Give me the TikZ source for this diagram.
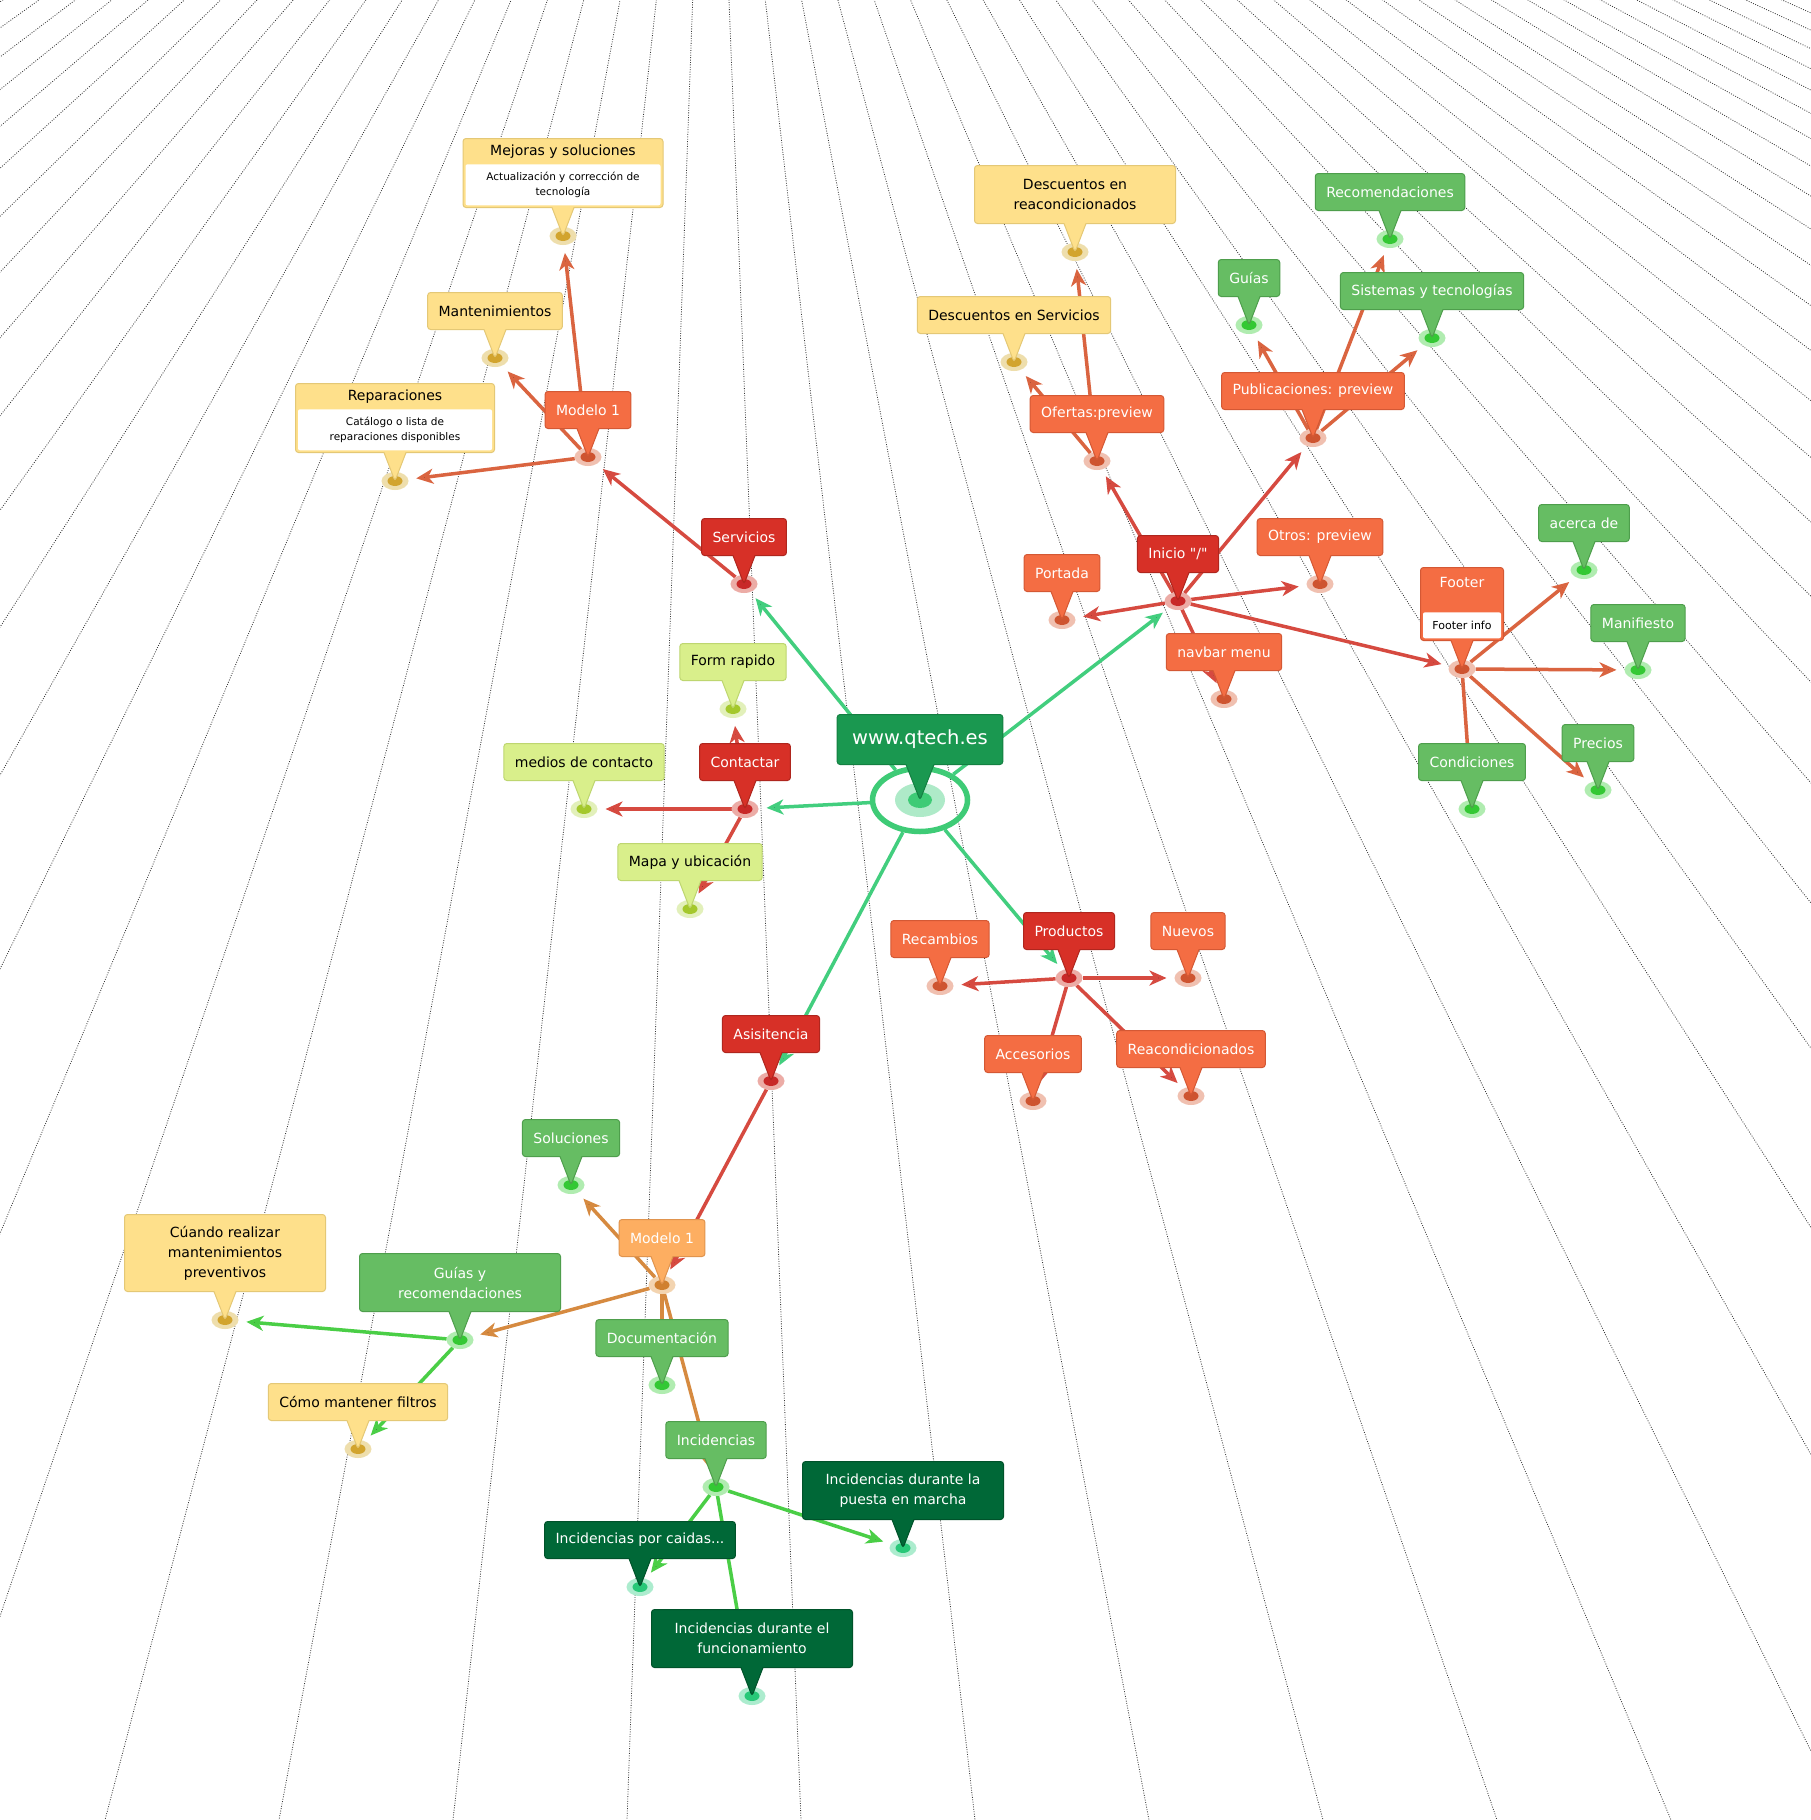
\documentclass[tikz,border=0pt]{standalone}
\usepackage{fontspec}
\setmainfont{DejaVu Sans}[Ligatures=TeXOff]
\usetikzlibrary{positioning,shapes.geometric,shapes.callouts,arrows.meta,backgrounds}

\definecolor{rdfill}{RGB}{215,48,39}
\definecolor{rddraw}{RGB}{175,38,30}
\definecolor{rdspot}{RGB}{200,40,40}
\definecolor{rdhalo}{RGB}{236,172,166}
\definecolor{orfill}{RGB}{244,109,67}
\definecolor{ordraw}{RGB}{212,88,52}
\definecolor{orspot}{RGB}{206,84,48}
\definecolor{orhalo}{RGB}{240,192,176}
\definecolor{amfill}{RGB}{253,174,97}
\definecolor{amdraw}{RGB}{224,148,78}
\definecolor{amspot}{RGB}{208,128,46}
\definecolor{amhalo}{RGB}{243,212,176}
\definecolor{yefill}{RGB}{254,224,139}
\definecolor{yedraw}{RGB}{228,200,118}
\definecolor{yespot}{RGB}{210,164,46}
\definecolor{yehalo}{RGB}{238,222,172}
\definecolor{lifill}{RGB}{217,239,139}
\definecolor{lidraw}{RGB}{190,214,112}
\definecolor{lispot}{RGB}{164,200,44}
\definecolor{lihalo}{RGB}{226,240,186}
\definecolor{grfill}{RGB}{102,189,99}
\definecolor{grdraw}{RGB}{78,158,76}
\definecolor{grspot}{RGB}{52,200,52}
\definecolor{grhalo}{RGB}{176,236,176}
\definecolor{dkfill}{RGB}{0,104,55}
\definecolor{dkdraw}{RGB}{0,82,42}
\definecolor{dkspot}{RGB}{40,200,120}
\definecolor{dkhalo}{RGB}{172,236,206}
\definecolor{wbfill}{RGB}{26,152,80}
\definecolor{wbdraw}{RGB}{20,128,66}
\definecolor{wbring}{RGB}{62,203,118}
\definecolor{wbhalo}{RGB}{174,234,200}
\definecolor{wbline}{RGB}{66,206,126}
\definecolor{rdline}{RGB}{214,74,64}
\definecolor{orline}{RGB}{218,100,64}
\definecolor{amline}{RGB}{214,138,64}
\definecolor{grline}{RGB}{74,206,70}
\definecolor{rayline}{RGB}{55,55,55}

\begin{document}
\begin{tikzpicture}[x=1pt,y=-1pt,>={Stealth[length=17pt,width=15pt,inset=5pt]},shorten >=8pt,
      pinbox/.style={rectangle callout,rounded corners=3pt,line width=1pt,inner xsep=11pt,inner ysep=2pt,
        minimum height=37pt,callout pointer width=22pt,align=center,font=\fontsize{14}{20}\selectfont},
      red pinbox/.style={pinbox,fill=rdfill,draw=rddraw,text=white},
      orange pinbox/.style={pinbox,fill=orfill,draw=ordraw,text=white},
      amber pinbox/.style={pinbox,fill=amfill,draw=amdraw,text=white},
      yellow pinbox/.style={pinbox,fill=yefill,draw=yedraw,text=black},
      lime pinbox/.style={pinbox,fill=lifill,draw=lidraw,text=black},
      green pinbox/.style={pinbox,fill=grfill,draw=grdraw,text=white},
      dark pinbox/.style={pinbox,fill=dkfill,draw=dkdraw,text=white},
      web pinbox/.style={pinbox,fill=wbfill,draw=wbdraw,text=white,inner xsep=15pt,minimum height=50pt,
        callout pointer width=28pt,font=\fontsize{19.5}{24}\selectfont},
      spot/.style={ellipse,inner sep=0pt,outer sep=0pt,minimum width=27pt,minimum height=18pt},
      red spot/.style={spot,fill=rdhalo,path picture={\fill[rdspot] (path picture bounding box.center) ellipse (7.5pt and 5pt);}},
      orange spot/.style={spot,fill=orhalo,path picture={\fill[orspot] (path picture bounding box.center) ellipse (7.5pt and 5pt);}},
      amber spot/.style={spot,fill=amhalo,path picture={\fill[amspot] (path picture bounding box.center) ellipse (7.5pt and 5pt);}},
      yellow spot/.style={spot,fill=yehalo,path picture={\fill[yespot] (path picture bounding box.center) ellipse (7.5pt and 5pt);}},
      lime spot/.style={spot,fill=lihalo,path picture={\fill[lispot] (path picture bounding box.center) ellipse (7.5pt and 5pt);}},
      green spot/.style={spot,fill=grhalo,path picture={\fill[grspot] (path picture bounding box.center) ellipse (7.5pt and 5pt);}},
      dark spot/.style={spot,fill=dkhalo,path picture={\fill[dkspot] (path picture bounding box.center) ellipse (7.5pt and 5pt);}},
      web spot/.style={ellipse,inner sep=0pt,outer sep=0pt,minimum width=50pt,minimum height=34pt,fill=wbhalo,
        path picture={\fill[wbring] (path picture bounding box.center) ellipse (12pt and 8pt);}},
      web ring/.style={ellipse,draw=wbring,line width=5.5pt,minimum width=95pt,minimum height=63pt,inner sep=0pt},
      pin head/.style={inner sep=0pt,minimum height=26pt,anchor=north,font=\fontsize{14}{20}\selectfont},
      pin body/.style={fill=white,rounded corners=2pt,inner sep=0pt,anchor=south,align=center,
        font=\fontsize{10.5}{15}\selectfont},
      web line/.style={draw=wbline,line width=3.5pt},
      red line/.style={draw=rdline,line width=3.5pt},
      orange line/.style={draw=orline,line width=3.5pt},
      amber line/.style={draw=amline,line width=3.5pt},
      green line/.style={draw=grline,line width=3.5pt},
      ray/.style={draw=rayline,line width=0.8pt,dash pattern=on 0.9pt off 1.5pt,shorten >=0pt}]
      \useasboundingbox (0,0) rectangle (1811,1820);
      \begin{scope}[on background layer]
        \fill[white] (0,0) rectangle (1811,1820);
        \clip (0,0) rectangle (1811,1820);
        \foreach \k in {-16,...,34}
          \draw[ray] (710,-480) -- ({105+174*\k},1820);
      \end{scope}

      \node[web ring] (web) at (920,800) {};
      \node[web spot] (webdot) at (920,800) {};
      \node[web pinbox,above=18pt of webdot,callout absolute pointer=(webdot.center)] (webbox) {www.qtech.es};

      \node[red spot] (serv) at (744,584) {};
      \node[red pinbox,above=19pt of serv,callout absolute pointer=(serv.center)] (servbox) {Servicios};
      \node[orange spot] (mod) at (588,457) {};
      \node[orange pinbox,above=19pt of mod,callout absolute pointer=(mod.center)] (modbox) {Modelo 1};
      \node[yellow spot] (mej) at (563,236) {};
      \node[yellow pinbox,minimum width=200pt,minimum height=69pt,above=19pt of mej,callout absolute pointer=(mej.center)] (mejbox) {};
      \node[pin head] (mejhead) at (mejbox.north) {Mejoras y soluciones};
      \node[pin body,minimum width=195pt,minimum height=41pt] (mejbody) at ([yshift=2.5pt]mejbox.south) {Actualización y corrección de\\tecnología};
      \node[yellow spot] (mant) at (495,358) {};
      \node[yellow pinbox,above=19pt of mant,callout absolute pointer=(mant.center)] (mantbox) {Mantenimientos};
      \node[yellow spot] (rep) at (395,481) {};
      \node[yellow pinbox,minimum width=199pt,minimum height=69pt,above=19pt of rep,callout absolute pointer=(rep.center)] (repbox) {};
      \node[pin head] (rephead) at (repbox.north) {Reparaciones};
      \node[pin body,minimum width=194pt,minimum height=41pt] (repbody) at ([yshift=2.5pt]repbox.south) {Catálogo o lista de\\reparaciones disponibles};

      \node[lime spot] (form) at (733,709) {};
      \node[lime pinbox,above=19pt of form,callout absolute pointer=(form.center)] (formbox) {Form rapido};
      \node[red spot] (cont) at (745,809) {};
      \node[red pinbox,above=19pt of cont,callout absolute pointer=(cont.center)] (contbox) {Contactar};
      \node[lime spot] (med) at (584,809) {};
      \node[lime pinbox,above=19pt of med,callout absolute pointer=(med.center)] (medbox) {medios de contacto};
      \node[lime spot] (mapa) at (690,909) {};
      \node[lime pinbox,above=19pt of mapa,callout absolute pointer=(mapa.center)] (mapabox) {Mapa y ubicación};

      \node[red spot] (asis) at (771,1081) {};
      \node[red pinbox,above=19pt of asis,callout absolute pointer=(asis.center)] (asisbox) {Asisitencia};
      \node[amber spot] (mod2) at (662,1285) {};
      \node[amber pinbox,above=19pt of mod2,callout absolute pointer=(mod2.center)] (mod2box) {Modelo 1};
      \node[green spot] (sol) at (571,1185) {};
      \node[green pinbox,above=19pt of sol,callout absolute pointer=(sol.center)] (solbox) {Soluciones};
      \node[green spot] (guia) at (460,1340) {};
      \node[green pinbox,minimum width=201pt,minimum height=58pt,above=19pt of guia,callout absolute pointer=(guia.center)] (guiabox) {Guías y\\recomendaciones};
      \node[yellow spot] (cuan) at (225,1320) {};
      \node[yellow pinbox,minimum width=201pt,minimum height=77pt,above=19pt of cuan,callout absolute pointer=(cuan.center)] (cuanbox) {Cúando realizar\\mantenimientos\\preventivos};
      \node[yellow spot] (como) at (358,1449) {};
      \node[yellow pinbox,above=19pt of como,callout absolute pointer=(como.center)] (comobox) {Cómo mantener filtros};
      \node[green spot] (doc) at (662,1385) {};
      \node[green pinbox,above=19pt of doc,callout absolute pointer=(doc.center)] (docbox) {Documentación};
      \node[green spot] (inc) at (716,1487) {};
      \node[green pinbox,above=19pt of inc,callout absolute pointer=(inc.center)] (incbox) {Incidencias};
      \node[dark spot] (puesta) at (903,1548) {};
      \node[dark pinbox,minimum width=201pt,minimum height=58pt,above=19pt of puesta,callout absolute pointer=(puesta.center)] (puestabox) {Incidencias durante la\\puesta en marcha};
      \node[dark spot] (caida) at (640,1587) {};
      \node[dark pinbox,above=19pt of caida,callout absolute pointer=(caida.center)] (caidabox) {Incidencias por caidas...};
      \node[dark spot] (func) at (752,1696) {};
      \node[dark pinbox,minimum width=201pt,minimum height=58pt,above=19pt of func,callout absolute pointer=(func.center)] (funcbox) {Incidencias durante el\\funcionamiento};

      \node[red spot] (prod) at (1069,978) {};
      \node[red pinbox,above=19pt of prod,callout absolute pointer=(prod.center)] (prodbox) {Productos};
      \node[orange spot] (recam) at (940,986) {};
      \node[orange pinbox,above=19pt of recam,callout absolute pointer=(recam.center)] (recambox) {Recambios};
      \node[orange spot] (nuev) at (1188,978) {};
      \node[orange pinbox,above=19pt of nuev,callout absolute pointer=(nuev.center)] (nuevbox) {Nuevos};
      \node[orange spot] (acc) at (1033,1101) {};
      \node[orange pinbox,above=19pt of acc,callout absolute pointer=(acc.center)] (accbox) {Accesorios};
      \node[orange spot] (reac) at (1191,1096) {};
      \node[orange pinbox,above=19pt of reac,callout absolute pointer=(reac.center)] (reacbox) {Reacondicionados};

      \node[red spot] (ini) at (1178,601) {};
      \node[red pinbox,above=19pt of ini,callout absolute pointer=(ini.center)] (inibox) {Inicio "/"};
      \node[orange spot] (port) at (1062,620) {};
      \node[orange pinbox,above=19pt of port,callout absolute pointer=(port.center)] (portbox) {Portada};
      \node[orange spot] (otros) at (1320,584) {};
      \node[orange pinbox,above=19pt of otros,callout absolute pointer=(otros.center)] (otrosbox) {Otros: preview};
      \node[orange spot] (nav) at (1224,699) {};
      \node[orange pinbox,above=19pt of nav,callout absolute pointer=(nav.center)] (navbox) {navbar menu};
      \node[orange spot] (ofer) at (1097,461) {};
      \node[orange pinbox,above=19pt of ofer,callout absolute pointer=(ofer.center)] (oferbox) {Ofertas:preview};
      \node[yellow spot] (dserv) at (1014,362) {};
      \node[yellow pinbox,above=19pt of dserv,callout absolute pointer=(dserv.center)] (dservbox) {Descuentos en Servicios};
      \node[yellow spot] (dreac) at (1075,252) {};
      \node[yellow pinbox,minimum width=201pt,minimum height=58pt,above=19pt of dreac,callout absolute pointer=(dreac.center)] (dreacbox) {Descuentos en\\reacondicionados};
      \node[orange spot] (pub) at (1313,438) {};
      \node[orange pinbox,above=19pt of pub,callout absolute pointer=(pub.center)] (pubbox) {Publicaciones: preview};
      \node[green spot] (guias) at (1249,325) {};
      \node[green pinbox,above=19pt of guias,callout absolute pointer=(guias.center)] (guiasbox) {Guías};
      \node[green spot] (recom) at (1390,239) {};
      \node[green pinbox,above=19pt of recom,callout absolute pointer=(recom.center)] (recombox) {Recomendaciones};
      \node[green spot] (sist) at (1432,338) {};
      \node[green pinbox,above=19pt of sist,callout absolute pointer=(sist.center)] (sistbox) {Sistemas y tecnologías};

      \node[orange spot] (foot) at (1462,669) {};
      \node[orange pinbox,minimum width=83pt,minimum height=73pt,above=19pt of foot,callout absolute pointer=(foot.center)] (footbox) {};
      \node[pin head,minimum height=30pt,text=white] (foothead) at (footbox.north) {Footer};
      \node[pin body,minimum width=78pt,minimum height=26pt,font=\fontsize{11}{14}\selectfont] (footbody) at ([yshift=2.5pt]footbox.south) {Footer info};
      \node[green spot] (acer) at (1584,570) {};
      \node[green pinbox,above=19pt of acer,callout absolute pointer=(acer.center)] (acerbox) {acerca de};
      \node[green spot] (mani) at (1638,670) {};
      \node[green pinbox,above=19pt of mani,callout absolute pointer=(mani.center)] (manibox) {Manifiesto};
      \node[green spot] (prec) at (1598,790) {};
      \node[green pinbox,above=19pt of prec,callout absolute pointer=(prec.center)] (precbox) {Precios};
      \node[green spot] (cond) at (1472,809) {};
      \node[green pinbox,above=19pt of cond,callout absolute pointer=(cond.center)] (condbox) {Condiciones};

      \begin{scope}[on background layer]
      \path[->,web line]
        (web) edge (serv)
        (web) edge (cont)
        (web) edge (asis)
        (web) edge (prod)
        (web) edge (ini);
      \path[->,red line]
        (serv) edge (mod)
        (cont) edge (form)
        (cont) edge (med)
        (cont) edge (mapa)
        (asis) edge (mod2)
        (prod) edge (recam)
        (prod) edge (nuev)
        (prod) edge (acc)
        (prod) edge (reac)
        (ini) edge (port)
        (ini) edge (otros)
        (ini) edge (nav)
        (ini) edge (ofer)
        (ini) edge (pub)
        (ini) edge (foot);
      \path[->,orange line]
        (mod) edge (mej)
        (mod) edge (mant)
        (mod) edge (rep)
        (ofer) edge (dserv)
        (ofer) edge (dreac)
        (pub) edge (guias)
        (pub) edge (recom)
        (pub) edge (sist)
        (foot) edge (acer)
        (foot) edge (mani)
        (foot) edge (prec)
        (foot) edge (cond);
      \path[->,amber line]
        (mod2) edge (sol)
        (mod2) edge (guia)
        (mod2) edge (doc)
        (mod2) edge (inc);
      \path[->,green line]
        (guia) edge (cuan)
        (guia) edge (como)
        (inc) edge (puesta)
        (inc) edge (caida)
        (inc) edge (func);
      \end{scope}
    \end{tikzpicture}
\end{document}
